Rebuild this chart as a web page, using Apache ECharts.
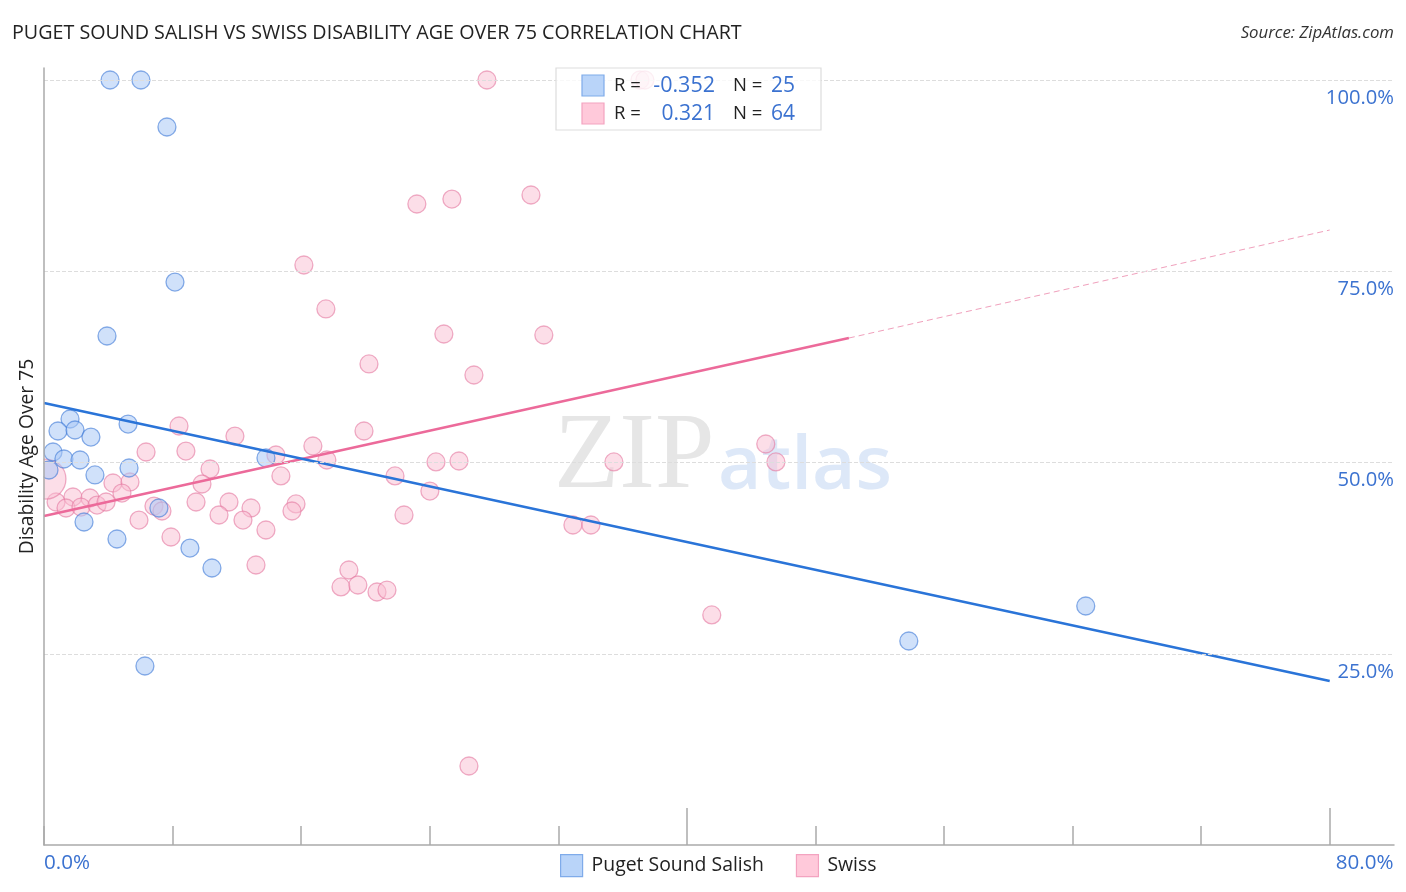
<!DOCTYPE html>
<html style="height: 100%">
<head>
<meta charset="utf-8">
</head>
<body style="height: 100%; margin: 0; background: #fff">
<div id="container" style="height: 892px; width: 1406px"></div>
<script src="https://cdn.jsdelivr.net/npm/echarts@6/dist/echarts.min.js"></script>
<script type="text/javascript">
var myChart = echarts.init(document.getElementById('container'));

var blueData = [
  [4.11, 100], [6.03, 100], [7.65, 93.86], [8.15, 73.59], [3.92, 66.54],
  [1.62, 55.69], [5.23, 55.03], [0.87, 54.12], [1.93, 54.25], [2.92, 53.33],
  [0.56, 51.37], [1.24, 50.46], [2.24, 50.33], [0.31, 49.02], [5.29, 49.28],
  [3.17, 48.37], [13.81, 50.59], [7.15, 44.05], [2.49, 42.22], [4.54, 40.0],
  [9.08, 38.82], [10.45, 36.21], [6.28, 23.4], [53.81, 26.67], [64.82, 31.24]
];

var pinkData = [
  [27.56, 100], [37.08, 100], [37.39, 100], [30.3, 84.97], [25.38, 84.44],
  [23.2, 83.79], [16.17, 75.82], [17.54, 70.07], [24.88, 66.8], [31.1, 66.67],
  [20.22, 62.88], [26.75, 61.44], [19.91, 54.12], [17.6, 50.33], [21.84, 48.24],
  [24.39, 50.07], [25.82, 50.2], [35.46, 50.07], [44.91, 52.42], [45.54, 50.07],
  [24.01, 46.27], [22.4, 43.14], [32.91, 41.83], [34.03, 41.83], [18.97, 35.95],
  [18.48, 33.73], [19.53, 33.99], [20.72, 33.07], [21.34, 33.33], [41.55, 30.07],
  [26.44, 10.33], [8.4, 54.77], [11.88, 53.46], [16.73, 52.16], [8.83, 51.5],
  [6.35, 51.37], [14.43, 50.98], [10.33, 49.15], [14.74, 48.24], [4.29, 47.32],
  [5.35, 47.45], [9.83, 47.19], [4.85, 46.01], [0.75, 44.84], [1.8, 45.49],
  [2.86, 45.36], [1.37, 44.05], [2.3, 44.18], [3.3, 44.44], [3.86, 44.84],
  [6.84, 44.31], [7.34, 43.66], [9.46, 44.84], [11.51, 44.84], [10.89, 43.14],
  [12.88, 44.05], [12.38, 42.48], [15.68, 44.58], [15.43, 43.66], [5.91, 42.48],
  [13.81, 41.18], [7.9, 40.26], [13.19, 36.6],
  { value: [0.12, 47.84], symbolSize: 40 }
];

var FONT = 'Open Sans';
var BLUE_TEXT = '#3b72d0';
var DARK = '#222';

function legendText(x, y, text, color, size, align) {
  return {
    type: 'text', x: x, y: y, z: 101,
    style: {
      text: text, fill: color, font: size + 'px "' + FONT + '"',
      textAlign: align || 'left', textVerticalAlign: 'middle'
    }
  };
}

var option = {
  backgroundColor: '#fff',
  animation: false,
  title: [{
    text: 'PUGET SOUND SALISH VS SWISS DISABILITY AGE OVER 75 CORRELATION CHART',
    left: 12, top: 23, padding: 0,
    textStyle: { fontFamily: FONT, fontSize: 19.7, fontWeight: 'normal', color: DARK }
  }, {
    text: 'Source: ZipAtlas.com',
    right: 12, top: 25, padding: 0,
    textStyle: { fontFamily: FONT, fontSize: 16.8, fontWeight: 'normal', fontStyle: 'italic', color: '#333' }
  }],
  grid: { left: 44, top: 68, width: 1350, height: 777 },
  xAxis: [{
    type: 'value', min: 0, max: 84, interval: 8, position: 'bottom',
    splitLine: { show: false },
    axisLine: { lineStyle: { color: '#aaa', width: 1.5 } },
    axisTick: {
      inside: true, length: 19, customValues: [0, 8, 16, 24, 32, 40, 48, 56, 64, 72, 80],
      lineStyle: { color: '#aaa', width: 1.5 }
    },
    axisLabel: {
      customValues: [0, 80], align: 'left', margin: 8,
      formatter: function (v) { return v === 0 ? '{a|0.0%}' : '{b|80.0%}'; },
      rich: {
        a: { fontFamily: FONT, fontSize: 20.6, color: BLUE_TEXT },
        b: { fontFamily: FONT, fontSize: 20.6, color: BLUE_TEXT, padding: [0, 0, 0, 6] }
      }
    }
  }, {
    type: 'value', min: 0, max: 84, interval: 40, position: 'bottom',
    splitLine: { show: false }, axisLine: { show: false }, axisLabel: { show: false },
    axisTick: {
      inside: true, length: 37, customValues: [40, 80],
      lineStyle: { color: '#aaa', width: 1.5 }
    }
  }],
  yAxis: [{
    type: 'value', min: 0, max: 101.57, interval: 25,
    position: 'left', z: 10,
    name: 'Disability Age Over 75', nameLocation: 'middle', nameGap: 7,
    nameTextStyle: { fontFamily: FONT, fontSize: 19.3, color: DARK },
    axisLine: { show: true, lineStyle: { color: '#aaa', width: 1.5 } },
    axisTick: { show: false },
    axisLabel: { show: false },
    splitLine: {
      show: true, showMinLine: false, showMaxLine: false,
      lineStyle: { color: '#ddd', type: 'dashed', width: 1 }
    }
  }, {
    type: 'value', min: 0, max: 101.57, interval: 25,
    position: 'right',
    axisLine: { show: false }, axisTick: { show: false }, splitLine: { show: false },
    axisLabel: {
      inside: true, margin: 0, align: 'right', verticalAlign: 'top', padding: [8, 0, 0, 0],
      customValues: [25, 50, 75, 100],
      formatter: function (v) { return v.toFixed(1) + '%'; },
      fontFamily: FONT, fontSize: 20.2, color: BLUE_TEXT
    }
  }],
  legend: {
    left: 555, top: 849, itemWidth: 22, itemHeight: 22, itemGap: 32,
    selectedMode: false,
    textStyle: { fontFamily: FONT, fontSize: 19.4, color: DARK, padding: [0, 0, 0, 4] },
    data: [
      { name: 'Puget Sound Salish', icon: 'rect', itemStyle: { color: '#b9d4f9', borderColor: '#7fabea', borderWidth: 1.2 } },
      { name: 'Swiss', icon: 'rect', itemStyle: { color: '#ffc9da', borderColor: '#f3a3c0', borderWidth: 1.2 } }
    ]
  },
  graphic: [
    // watermark
    { type: 'text', x: 554, y: 512, z: 0, silent: true,
      style: { text: 'ZIP', fill: '#e6e6e6', font: '107px "Liberation Serif"', textVerticalAlign: 'bottom' } },
    { type: 'text', x: 718, y: 505, z: 0, silent: true,
      style: { text: 'atlas', fill: '#dde8f8', font: '600 75px "Open Sans"', textVerticalAlign: 'bottom' } },
    // marks stop at the axis line
    { type: 'rect', z: 8, silent: true, shape: { x: 0, y: 430, width: 43.5, height: 90 },
      style: { fill: '#fff' } },
    // R / N box
    { type: 'rect', z: 100, shape: { x: 556, y: 68, width: 265, height: 62 },
      style: { fill: 'rgba(255,255,255,0.8)', stroke: '#ddd', lineWidth: 1.2 } },
    { type: 'rect', z: 101, shape: { x: 582, y: 75, width: 22, height: 21 },
      style: { fill: '#b9d4f9', stroke: '#7fabea', lineWidth: 1.2 } },
    { type: 'rect', z: 101, shape: { x: 582, y: 103, width: 22, height: 21 },
      style: { fill: '#ffc9da', stroke: '#f3a3c0', lineWidth: 1.2 } },
    legendText(614, 86, 'R =', DARK, 18.5),
    legendText(614, 114, 'R =', DARK, 18.5),
    legendText(715, 86, '-0.352', BLUE_TEXT, 21.5, 'right'),
    legendText(715, 114, '0.321', BLUE_TEXT, 21, 'right'),
    legendText(733, 86, 'N =', DARK, 18.5),
    legendText(733, 114, 'N =', DARK, 18.5),
    legendText(795, 86, '25', BLUE_TEXT, 21, 'right'),
    legendText(795, 114, '64', BLUE_TEXT, 21, 'right')
  ],
  series: [{
    name: 'Swiss', type: 'scatter', symbolSize: 18, z: 3,
    itemStyle: { color: 'rgba(250,190,210,0.5)', borderColor: 'rgba(228,120,160,0.6)', borderWidth: 1.3, opacity: 1 },
    data: pinkData
  }, {
    name: 'Puget Sound Salish', type: 'scatter', symbolSize: 18, z: 4,
    itemStyle: { color: 'rgba(170,200,245,0.55)', borderColor: 'rgba(60,120,215,0.6)', borderWidth: 1.3, opacity: 1 },
    data: blueData
  }, {
    name: 'swiss trend dash', type: 'line', symbol: 'none', z: 5,
    lineStyle: { color: '#f0a0bc', width: 1, type: [6, 4] },
    data: [[50.08, 66.27], [80, 80.39]]
  }, {
    name: 'swiss trend', type: 'line', symbol: 'none', z: 5,
    lineStyle: { color: '#ec6a9a', width: 2.5 },
    data: [[0, 43.0], [50.08, 66.27]]
  }, {
    name: 'salish trend', type: 'line', symbol: 'none', z: 6,
    lineStyle: { color: '#2a74d8', width: 2.5 },
    data: [[0, 57.78], [80, 21.44]]
  }]
};

myChart.setOption(option);
</script>
</body>
</html>
